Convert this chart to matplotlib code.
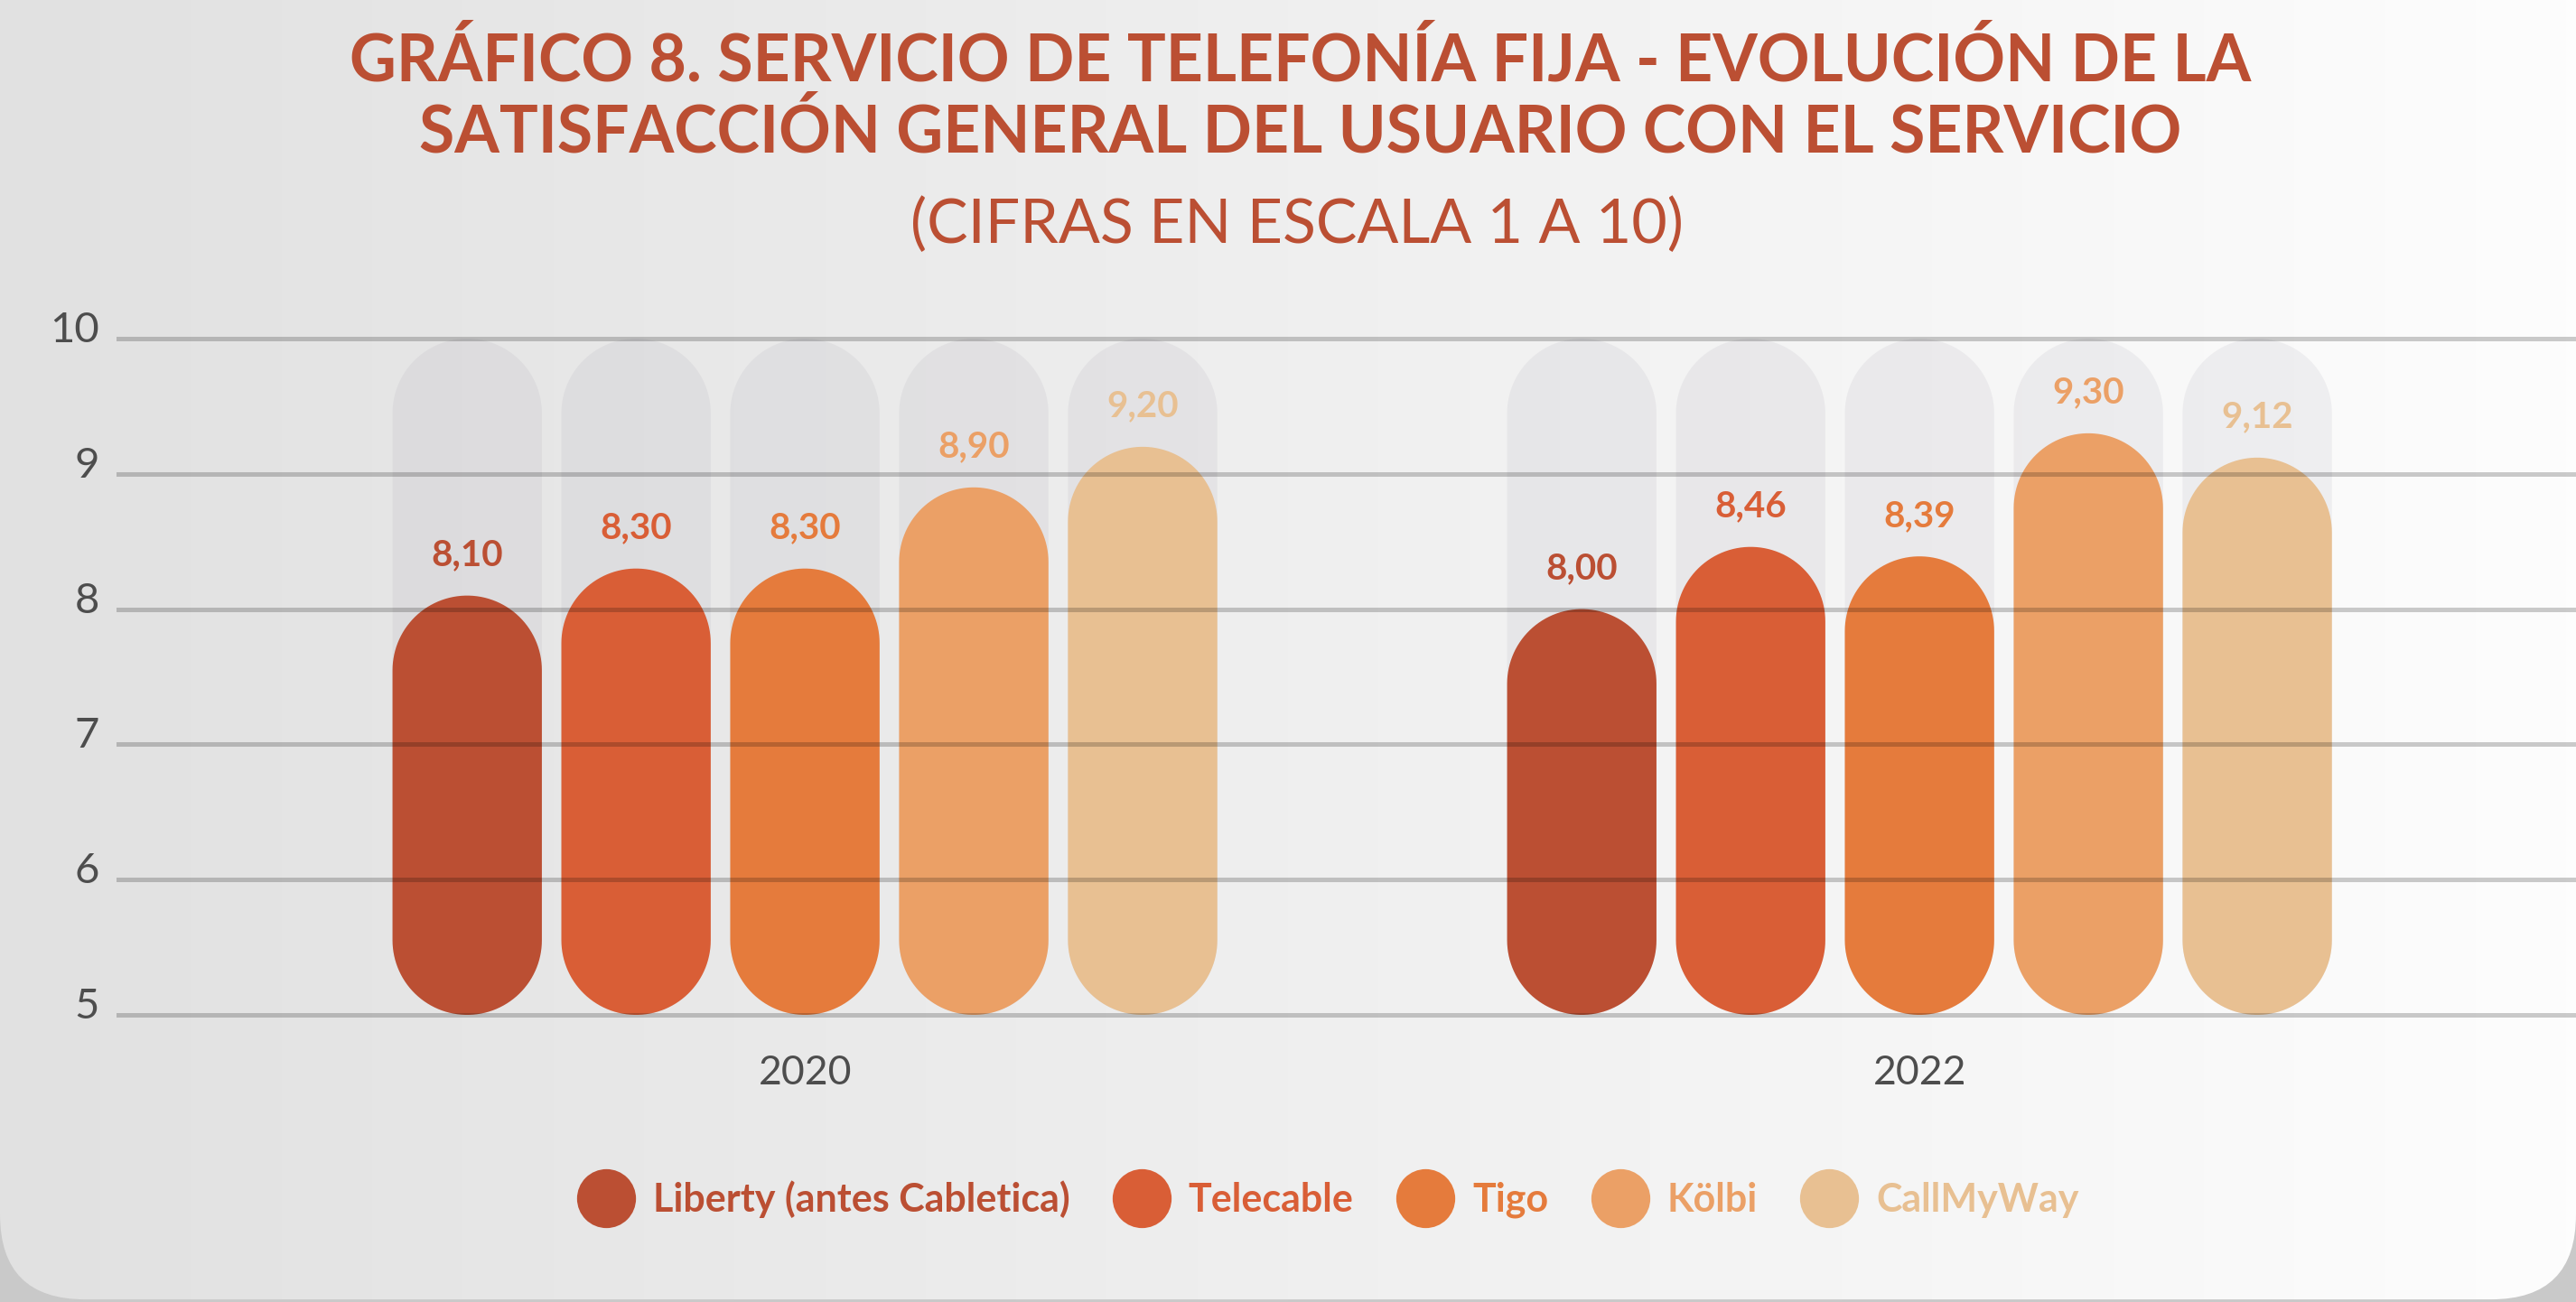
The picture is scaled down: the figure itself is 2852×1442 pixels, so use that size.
import numpy as np
import matplotlib.pyplot as plt
import matplotlib.transforms as mtransforms
from matplotlib.patches import FancyBboxPatch, Polygon
from matplotlib.lines import Line2D
from matplotlib.colors import LinearSegmentedColormap

plt.rcParams['font.family'] = ['Lato', 'DejaVu Sans']

# data (scale 1 to 10)
years = ['2020', '2022']
operators = ['Liberty (antes Cabletica)', 'Telecable', 'Tigo', 'Kölbi', 'CallMyWay']
scores_2020 = [8.10, 8.30, 8.30, 8.90, 9.20]
scores_2022 = [8.00, 8.46, 8.39, 9.30, 9.12]
y_ticks = [5, 6, 7, 8, 9, 10]

colors = ['#bb4f33', '#d95e36', '#e57b3c', '#eba066', '#e8c092']
title_color = '#bb4f33'
axis_text = '#4d4d4d'

W, H, DPI = 2852, 1442, 100
fig = plt.figure(figsize=(W / DPI, H / DPI), dpi=DPI)
fig.patch.set_facecolor('#c9c9c9')

# card background with horizontal gradient and rounded bottom corners
bg = fig.add_axes([0, 0, 1, 1], zorder=-10)
bg.set_axis_off()
bg.set_xlim(0, 1)
bg.set_ylim(0, 1)
cmap = LinearSegmentedColormap.from_list('card', ['#e1e1e1', '#fdfdfd'])
im = bg.imshow(np.linspace(0, 1, 256).reshape(1, -1), aspect='auto', cmap=cmap,
               extent=[0, 1, 0, 1])
card = FancyBboxPatch((0, 0.002), 1, 1.2, boxstyle='round,pad=0,rounding_size=0.033',
                      mutation_aspect=W / H, transform=bg.transAxes,
                      facecolor='none', edgecolor='none')
bg.add_patch(card)
im.set_clip_path(card)

# main plotting area
ax_left, ax_top, ax_bottom = 131, 375, 1124
ax = fig.add_axes([ax_left / W, (H - ax_bottom) / H, 1 - ax_left / W, (ax_bottom - ax_top) / H])
ax.patch.set_alpha(0)
xlim = (-0.616, 1.589)
ax.set_xlim(*xlim)
ax.set_ylim(5, 10)
for s in ax.spines.values():
    s.set_visible(False)

px_per_x = (W - ax_left) / (xlim[1] - xlim[0])
px_per_y = (ax_bottom - ax_top) / 5.0

bar_w = 0.134
step = 0.1515
offsets = (np.arange(len(operators)) - 2) * step
rx = bar_w / 2
ry = rx * px_per_x / px_per_y
theta = np.linspace(0, np.pi, 60)


def pill(x, y0, y1, color, alpha=1.0, z=2):
    # capsule shape with true semicircular ends
    top = np.column_stack([x + rx * np.cos(theta), y1 - ry + ry * np.sin(theta)])
    bot = np.column_stack([x - rx * np.cos(theta), y0 + ry - ry * np.sin(theta)])
    p = Polygon(np.vstack([top, bot]), closed=True, facecolor=color, edgecolor='none',
                alpha=alpha, zorder=z, clip_on=False)
    ax.add_patch(p)


for gi, vals in enumerate([scores_2020, scores_2022]):
    for i, v in enumerate(vals):
        x = gi + offsets[i]
        pill(x, 5, 10, '#9c98a8', alpha=0.12, z=1)
        pill(x, 5, v, colors[i], z=2)
        ax.text(x, v + 0.3, f'{v:.2f}'.replace('.', ','), ha='center', va='center',
                color=colors[i], fontsize=29, fontweight='bold', zorder=6)

for t in y_ticks:
    ax.axhline(t, color='black', alpha=0.2, lw=3.6, zorder=5, clip_on=False)

ax.set_yticks(y_ticks, [str(t) for t in y_ticks])
ax.set_xticks([0, 1], years)
ax.tick_params(axis='y', length=0, pad=15, labelsize=34, labelcolor=axis_text)
ax.tick_params(axis='x', length=0, pad=32, labelsize=32, labelcolor=axis_text)
up = mtransforms.ScaledTranslation(0, 13 / DPI, fig.dpi_scale_trans)
for lbl in ax.get_yticklabels():
    lbl.set_transform(lbl.get_transform() + up)

# titles
fig.text(1440 / W, 1 - 68 / H, 'GRÁFICO 8. SERVICIO DE TELEFONÍA FIJA - EVOLUCIÓN DE LA',
         ha='center', va='center', fontsize=51.5, fontweight='bold', color=title_color)
fig.text(1440 / W, 1 - 147 / H, 'SATISFACCIÓN GENERAL DEL USUARIO CON EL SERVICIO',
         ha='center', va='center', fontsize=51.5, fontweight='bold', color=title_color)
fig.text(1436 / W, 1 - 250 / H, '(CIFRAS EN ESCALA 1 A 10)',
         ha='center', va='center', fontsize=49, fontweight='normal', color=title_color)

# legend
handles = [Line2D([], [], ls='none', marker='o', markersize=47, color=c, markeredgewidth=0)
           for c in colors]
leg = fig.legend(handles, operators, loc='center', bbox_to_anchor=(1470 / W, 1 - 1328 / H),
                 ncol=5, frameon=False, handlelength=1.5, handletextpad=0.45,
                 columnspacing=1.1, prop={'weight': 'bold', 'size': 31})
for txt, c in zip(leg.get_texts(), colors):
    txt.set_color(c)

fig.savefig('out.png', dpi=DPI, facecolor=fig.get_facecolor())
